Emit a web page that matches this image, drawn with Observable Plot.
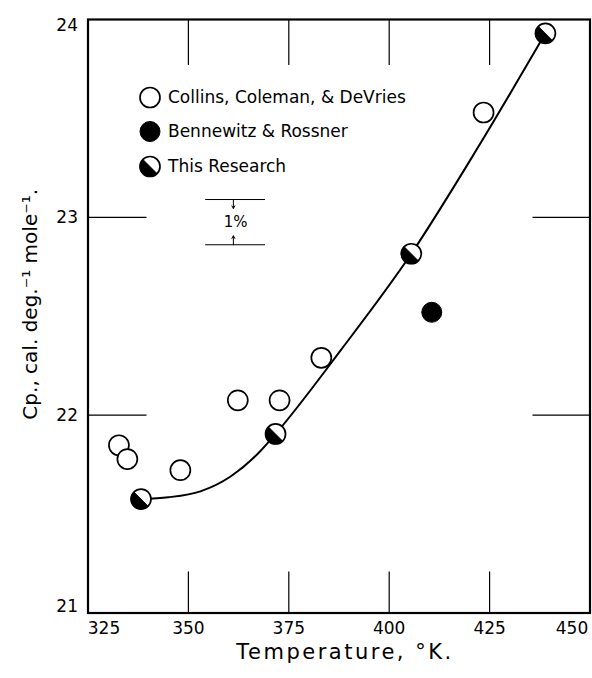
<!DOCTYPE html>
<html>
<head>
<meta charset="utf-8">
<script src="https://cdn.jsdelivr.net/npm/d3@7"></script>
<script src="https://cdn.jsdelivr.net/npm/@observablehq/plot@0.6"></script>
<style>
  body { margin: 0; background: #fff; }
  #chart svg { display: block; }
</style>
</head>
<body>
<div id="chart"></div>
<script>
// ---- data ----
const xTicks = [325, 350, 375, 400, 425, 450];
const yTicks = [21, 22, 23, 24];
const innerXTicks = [350, 375, 400, 425];
const innerYTicks = [22, 23];

const collinsT  = [332.7, 334.8, 348.0, 362.3, 372.7, 383.1, 423.5];
const collinsCp = [21.848, 21.778, 21.722, 22.075, 22.075, 22.29, 23.53];

const bennewitzT  = [410.6];
const bennewitzCp = [22.52];

const researchT  = [338.2, 371.7, 405.5, 438.9];
const researchCp = [21.576, 21.905, 22.816, 23.93];

// hand-drawn smooth curve
const curveT  = [338.2, 345, 353, 360.5, 368, 371.7, 388, 405.5, 422, 438.9];
const curveCp = [21.576, 21.585, 21.615, 21.69, 21.82, 21.905, 22.33, 22.816, 23.35, 23.93];

// 1 % scale marker
const pctX = [354.3, 369.2];
const pctTop = 23.09;
const pctBottom = pctTop / 1.01;
const pctArrowX = 361.2;
const pctArrowLen = 0.045;

const legendLabels = ["Collins, Coleman, & DeVries", "Bennewitz & Rossner", "This Research"];
const xLabel = "Temperature, °K.";
const yLabel = "Cp., cal. deg.⁻¹ mole⁻¹.";

// ---- tables ----
const collins = collinsT.map((t, i) => ({t, cp: collinsCp[i]}));
const bennewitz = bennewitzT.map((t, i) => ({t, cp: bennewitzCp[i]}));
const research = researchT.map((t, i) => ({t, cp: researchCp[i]}));
const curve = curveT.map((t, i) => ({t, cp: curveCp[i]}));

// half-filled (lower-left) disc symbol
const halfDisc = {
  draw(context, size) {
    const r = Math.sqrt(size / Math.PI);
    context.moveTo(r * Math.cos(Math.PI / 4), r * Math.sin(Math.PI / 4));
    context.arc(0, 0, r, Math.PI / 4, 5 * Math.PI / 4);
    context.closePath();
  }
};

const font = "DejaVu Sans, sans-serif";
const R = 10;
const blank = () => "";
const fmt = d => String(d);
const legendDx = 62, legendTextDx = 80, legendDy = [78, 112, 147];

const chart = Plot.plot({
  width: 592,
  height: 678,
  marginLeft: 87.5,
  marginRight: 2.5,
  marginTop: 19,
  marginBottom: 65.5,
  style: {fontFamily: font, color: "#000", background: "#fff"},
  x: {domain: [xTicks[0], xTicks[xTicks.length - 1]]},
  y: {domain: [yTicks[0], yTicks[yTicks.length - 1]]},
  marks: [
    // inner ticks on all four sides
    Plot.axisX(innerXTicks, {anchor: "bottom", tickSize: -41, tickFormat: blank, label: null, strokeWidth: 1.2}),
    Plot.axisX(innerXTicks, {anchor: "top", tickSize: -45, tickFormat: blank, label: null, strokeWidth: 1.2}),
    Plot.axisY(innerYTicks, {anchor: "left", tickSize: -59, tickFormat: blank, label: null, strokeWidth: 1.2}),
    Plot.axisY(innerYTicks, {anchor: "right", tickSize: -58, tickFormat: blank, label: null, strokeWidth: 1.2}),
    // tick labels
    Plot.axisX(xTicks.slice(1, -1), {anchor: "bottom", tickSize: 0, tickPadding: 9, fontSize: 17, tickFormat: fmt, label: null}),
    Plot.axisX(xTicks.slice(0, 1), {anchor: "bottom", tickSize: 0, tickPadding: 9, fontSize: 17, dx: 16, tickFormat: fmt, label: null}),
    Plot.axisX(xTicks.slice(-1), {anchor: "bottom", tickSize: 0, tickPadding: 9, fontSize: 17, dx: -18, tickFormat: fmt, label: null}),
    Plot.axisY(yTicks.slice(1, -1), {anchor: "left", tickSize: 0, tickPadding: 10, fontSize: 17, tickFormat: fmt, label: null}),
    Plot.axisY(yTicks.slice(-1), {anchor: "left", tickSize: 0, tickPadding: 10, fontSize: 17, dy: 6, tickFormat: fmt, label: null}),
    Plot.axisY(yTicks.slice(0, 1), {anchor: "left", tickSize: 0, tickPadding: 10, fontSize: 17, dy: -6, tickFormat: fmt, label: null}),
    Plot.frame({stroke: "#000", strokeWidth: 2.2}),
    // axis titles
    Plot.text([xLabel], {frameAnchor: "bottom", dy: 46, dx: 6, fontSize: 21, className: "xtitle"}),
    Plot.text([yLabel], {frameAnchor: "left", dx: -57, dy: -12, rotate: -90, textAnchor: "middle", fontSize: 20}),
    // curve
    Plot.line(curve, {x: "t", y: "cp", curve: "monotone-x", stroke: "#000", strokeWidth: 2}),
    // 1% marker
    Plot.ruleY([pctTop, pctBottom], {x1: pctX[0], x2: pctX[1], stroke: "#000", strokeWidth: 1}),
    Plot.arrow([0], {x1: pctArrowX, x2: pctArrowX, y1: pctTop, y2: pctTop - pctArrowLen, headLength: 5, stroke: "#000", strokeWidth: 1}),
    Plot.arrow([0], {x1: pctArrowX, x2: pctArrowX, y1: pctBottom, y2: pctBottom + pctArrowLen, headLength: 5, stroke: "#000", strokeWidth: 1}),
    Plot.text(["1%"], {x: (pctX[0] + pctX[1]) / 2, y: (pctTop + pctBottom) / 2, fontSize: 15}),
    // data points
    Plot.dot(collins, {x: "t", y: "cp", r: R, fill: "#fff", stroke: "#000", strokeWidth: 1.7}),
    Plot.dot(bennewitz, {x: "t", y: "cp", r: R, fill: "#000", stroke: "#000", strokeWidth: 1}),
    Plot.dot(research, {x: "t", y: "cp", r: R, fill: "#fff", stroke: "#000", strokeWidth: 1.7}),
    Plot.dot(research, {x: "t", y: "cp", r: R, symbol: halfDisc, fill: "#000", stroke: "#000", strokeWidth: 0.8}),
    // legend
    Plot.dot([0], {frameAnchor: "top-left", dx: legendDx, dy: legendDy[0], r: R, fill: "#fff", stroke: "#000", strokeWidth: 1.7}),
    Plot.dot([0], {frameAnchor: "top-left", dx: legendDx, dy: legendDy[1], r: R, fill: "#000", stroke: "#000", strokeWidth: 1}),
    Plot.dot([0], {frameAnchor: "top-left", dx: legendDx, dy: legendDy[2], r: R, fill: "#fff", stroke: "#000", strokeWidth: 1.7}),
    Plot.dot([0], {frameAnchor: "top-left", dx: legendDx, dy: legendDy[2], r: R, symbol: halfDisc, fill: "#000", stroke: "#000", strokeWidth: 0.8}),
    ...legendLabels.map((label, i) =>
      Plot.text([label], {frameAnchor: "top-left", dx: legendTextDx, dy: legendDy[i], textAnchor: "start", lineAnchor: "middle", fontSize: 17}))
  ]
});

document.getElementById("chart").appendChild(chart);
d3.select(chart).selectAll(".xtitle text").style("letter-spacing", "2.5px");
</script>
</body>
</html>
